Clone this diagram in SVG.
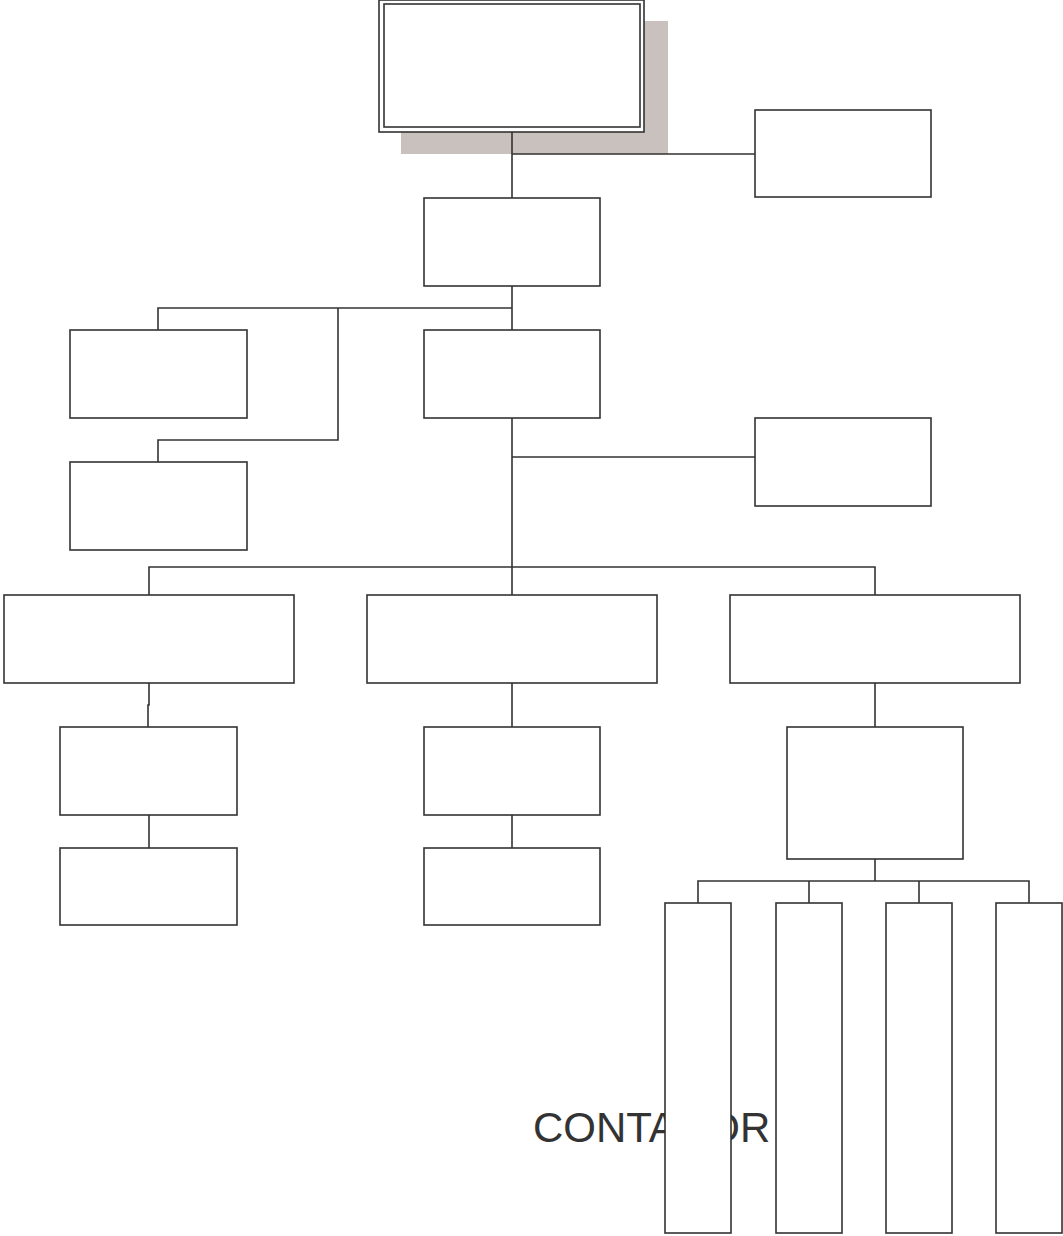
<svg xmlns="http://www.w3.org/2000/svg" width="1063" height="1236" viewBox="0 0 1063 1236">
<style>
.b{fill:#fff;stroke:#333;stroke-width:1.6}
.c{fill:none;stroke:#333;stroke-width:1.6}
.t{font-family:"Liberation Sans",Arial,sans-serif;font-size:42px;fill:#333}
</style>
<rect width="1063" height="1236" fill="#fff"/>
<g id="top">
<rect x="401" y="21" width="267" height="133" fill="#C9C1BD"/>
<rect class="b" x="379" y="0" width="265" height="132"/>
<rect class="c" x="384" y="4" width="256" height="123"/>
</g>
<g id="connectors">
<path class="c" d="M512 132V198M512 154H755"/>
<path class="c" d="M512 286V330M512 308H158V330M338 308V440H158V462"/>
<path class="c" d="M512 418V595M512 457H755M149 595V567H875V595"/>
<path class="c" d="M149 683V705H148V727M512 683V727M875 683V727"/>
<path class="c" d="M149 815V848M512 815V848"/>
<path class="c" d="M875 859V881M698 903V881H1029V903M809 881V903M919 881V903"/>
</g>
<g id="n-right1"><rect class="b" x="755" y="110" width="176" height="87"/></g>
<g id="n-2"><rect class="b" x="424" y="198" width="176" height="88"/></g>
<g id="n-left1"><rect class="b" x="70" y="330" width="177" height="88"/></g>
<g id="n-left2"><rect class="b" x="70" y="462" width="177" height="88"/></g>
<g id="n-center"><rect class="b" x="424" y="330" width="176" height="88"/></g>
<g id="n-right2"><rect class="b" x="755" y="418" width="176" height="88"/></g>
<g id="n-row1"><rect class="b" x="4" y="595" width="290" height="88"/></g>
<g id="n-row2"><rect class="b" x="367" y="595" width="290" height="88"/></g>
<g id="n-row3"><rect class="b" x="730" y="595" width="290" height="88"/></g>
<g id="n-a1"><rect class="b" x="60" y="727" width="177" height="88"/></g>
<g id="n-b1"><rect class="b" x="424" y="727" width="176" height="88"/></g>
<g id="n-c1"><rect class="b" x="787" y="727" width="176" height="132"/></g>
<g id="n-a2"><rect class="b" x="60" y="848" width="177" height="77"/></g>
<g id="n-b2"><rect class="b" x="424" y="848" width="176" height="77"/></g>
<text class="t" x="533" y="1142">CONTADOR</text>
<g id="n-d1"><rect class="b" x="665" y="903" width="66" height="330"/></g>
<g id="n-d2"><rect class="b" x="776" y="903" width="66" height="330"/></g>
<g id="n-d3"><rect class="b" x="886" y="903" width="66" height="330"/></g>
<g id="n-d4"><rect class="b" x="996" y="903" width="66" height="330"/></g>
</svg>
